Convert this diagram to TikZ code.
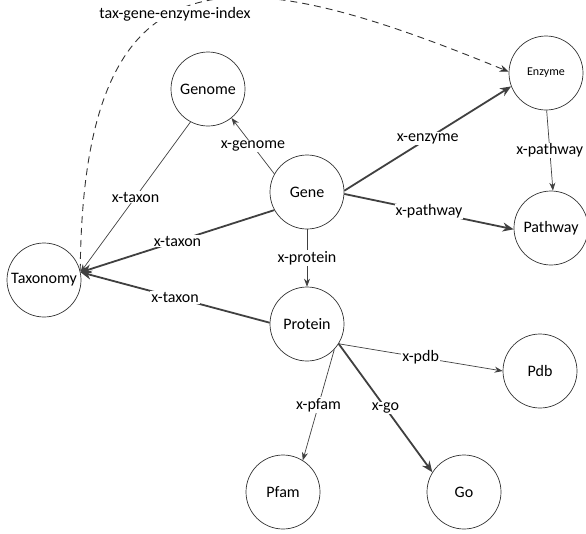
\documentclass[tikz,border=0pt]{standalone}
\usepackage{fontspec}
\setmainfont{Carlito}
\usetikzlibrary{arrows.meta}
\begin{document}
\begin{tikzpicture}[x=1pt,y=-1pt,
  ent/.style={circle, draw=black!80, line width=0.7pt, minimum size=74pt, inner sep=0pt, font=\fontsize{16}{18}\selectfont},
  lbl/.style={fill=white, inner sep=1pt, font=\fontsize{16}{18}\selectfont},
  thinarr/.style={draw=black!75, line width=0.7pt, -{Stealth[length=8pt,width=6pt]}},
  thickarr/.style={draw=black!75, line width=1.8pt, -{Stealth[length=11pt,width=9pt]}},
  dasharr/.style={draw=black!80, line width=0.9pt, dash pattern=on 7pt off 5pt, -{Stealth[length=9pt,width=7pt]}},
]
\useasboundingbox (0,0) rectangle (586,533);

\node[ent] (genome) at (208,89) {Genome};
\node[ent, font=\fontsize{12}{14}\selectfont] (enzyme) at (546,73) {Enzyme};
\node[ent] (gene) at (307,192) {Gene};
\node[ent] (pathway) at (551,228) {Pathway};
\node[ent] (tax) at (44,280) {Taxonomy};
\node[ent] (protein) at (307,324) {Protein};
\node[ent] (pdb) at (540,371) {Pdb};
\node[ent] (pfam) at (283,492) {Pfam};
\node[ent] (go) at (464,492) {Go};

% dashed index curve
\draw[dasharr] (tax.14) .. controls (83,-62) and (236,-40) .. (enzyme.178);
\node[lbl] (idx) at (175,14) {tax-gene-enzyme-index};

% thin connectors
\draw[thinarr] (gene.151) -- node[lbl] (lgenome) {x-genome} (genome.309);
\draw[thinarr] (genome.242) -- node[lbl] (ltax1) {x-taxon} (tax.12);
\draw[thinarr] (enzyme.271) -- node[lbl] (lpath2) {x-pathway} (pathway.87);
\draw[thinarr] (gene.270) -- node[lbl] (lprot) {x-protein} (protein.90);
\draw[thinarr] (protein.-32.5) -- node[lbl] (lpdb) {x-pdb} (pdb.180);
\draw[thinarr] (protein.-43) -- node[lbl] (lpfam) {x-pfam} (pfam.58);

% thick connectors
\draw[thickarr] (gene.2) -- node[lbl] (lenz) {x-enzyme} (enzyme.201.5);
\draw[thickarr] (gene.-3) -- node[lbl] (lpath1) {x-pathway} (pathway.182);
\draw[thickarr] (gene.209) -- node[lbl] (ltax2) {x-taxon} (tax.12);
\draw[thickarr] (protein.178) -- node[lbl] (ltax3) {x-taxon} (tax.12);
\draw[thickarr] (protein.-32.5) -- node[lbl] (lgo) {x-go} (go.148);
\end{tikzpicture}
\end{document}
